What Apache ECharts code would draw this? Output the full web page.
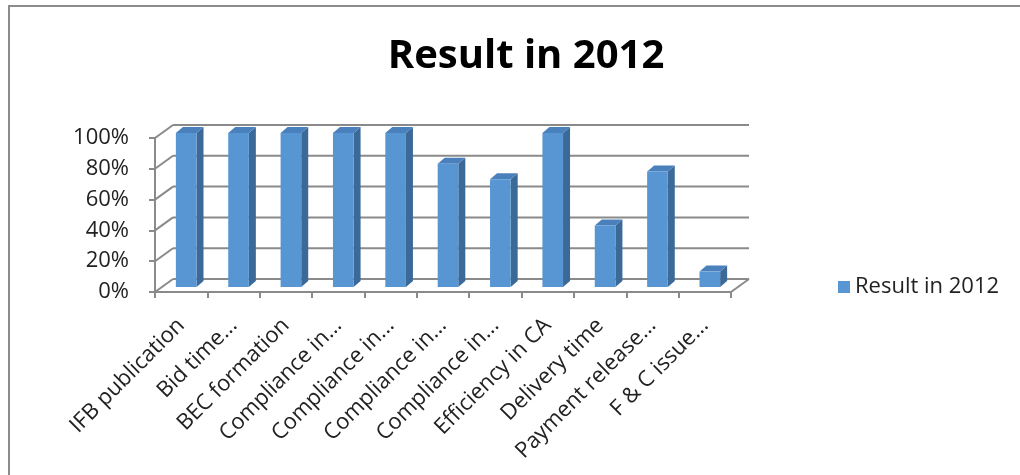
<!DOCTYPE html>
<html>
<head>
<meta charset="utf-8">
<script src="https://cdn.jsdelivr.net/npm/echarts@6/dist/echarts.min.js"></script>
<style>html,body{margin:0;padding:0;background:#fff;}#c{width:1020px;height:475px;}</style>
</head>
<body>
<div id="c"></div>
<script>
const categories = ['IFB publication','Bid time...','BEC formation','Compliance in...','Compliance in...','Compliance in...','Compliance in...','Efficiency in CA','Delivery time','Payment release...','F & C issue...'];
const values = [1.00, 1.00, 1.00, 1.00, 1.00, 0.80, 0.70, 1.00, 0.40, 0.75, 0.10];
const yTicks = [0, 0.2, 0.4, 0.6, 0.8, 1.0];
const seriesName = 'Result in 2012';
const titleText = 'Result in 2012';

const FONT = '"Open Sans", "Noto Sans", sans-serif';
const GRID_COLOR = '#8a8a8a';
const WALL_D = [18, -13];     // depth of floor/back wall
const BAR_FRONT = [5, -5];    // front face offset inside the depth
const BAR_D = [7, -6];        // bar depth
const BAR_HALF = 0.197;       // half width as fraction of band

const chart = echarts.init(document.getElementById('c'), null, {renderer: 'canvas'});

const option = {
  backgroundColor: '#fff',
  animation: false,
  title: {
    text: titleText,
    left: 521, top: 32, textAlign: 'center',
    textStyle: {fontFamily: FONT, fontWeight: 'bold', fontSize: 40, color: '#000'}
  },
  legend: {
    left: 833, top: 271,
    itemWidth: 12, itemHeight: 12, itemGap: 10,
    textStyle: {fontFamily: FONT, fontSize: 22, color: '#222'},
    data: [{name: seriesName, icon: 'rect', itemStyle: {color: '#5796d3'}}]
  },
  grid: {left: 155, right: 289, top: 138, bottom: 183, containLabel: false},
  xAxis: {
    type: 'category',
    data: categories,
    boundaryGap: true,
    axisLine: {show: true, lineStyle: {color: GRID_COLOR, width: 2}},
    axisTick: {show: true, length: 6, lineStyle: {color: GRID_COLOR, width: 2}},
    axisLabel: {rotate: 45, margin: 30, interval: 0, fontFamily: FONT, fontSize: 22, color: '#222'},
    splitLine: {show: false}
  },
  yAxis: {
    type: 'value', min: 0, max: 1, interval: 0.2,
    axisLine: {show: true, lineStyle: {color: GRID_COLOR, width: 2}},
    axisTick: {show: true, length: 6, lineStyle: {color: GRID_COLOR, width: 2}},
    axisLabel: {margin: 26, fontFamily: FONT, fontSize: 22, color: '#222',
      formatter: v => Math.round(v * 100) + '%'},
    splitLine: {show: false}
  },
  graphic: [{
    type: 'rect', z: -10,
    shape: {x: 9, y: 6, width: 1030, height: 490},
    style: {fill: 'none', stroke: '#8c8c8c', lineWidth: 2}
  }],
  series: [
    {
      name: 'walls',
      type: 'custom',
      z: 1,
      clip: false,
      silent: true,
      data: yTicks.map(t => [0, t]),
      encode: {x: 0, y: 1},
      renderItem: function (params, api) {
        const cs = params.coordSys;
        const y = api.coord([0, api.value(1)])[1];
        const x0 = cs.x, x1 = cs.x + cs.width;
        const children = [
          {type: 'line', shape: {x1: x0, y1: y, x2: x0 + WALL_D[0], y2: y + WALL_D[1]},
            style: {stroke: GRID_COLOR, lineWidth: 2}},
          {type: 'line', shape: {x1: x0 + WALL_D[0], y1: y + WALL_D[1], x2: x1 + WALL_D[0], y2: y + WALL_D[1]},
            style: {stroke: GRID_COLOR, lineWidth: 2}}
        ];
        if (api.value(1) === 0) {
          children.push({type: 'line', shape: {x1: x1, y1: y, x2: x1 + WALL_D[0], y2: y + WALL_D[1]},
            style: {stroke: GRID_COLOR, lineWidth: 2}});
        }
        return {type: 'group', children: children};
      }
    },
    {
      name: seriesName,
      type: 'custom',
      z: 3,
      clip: false,
      data: values.map((v, i) => [i, v]),
      encode: {x: 0, y: 1},
      renderItem: function (params, api) {
        const i = api.value(0), v = api.value(1);
        const p0 = api.coord([i, 0]);
        const p1 = api.coord([i, v]);
        const band = api.size([1, 0])[0];
        const hw = band * BAR_HALF;
        const cx = p0[0] + BAR_FRONT[0];
        const yb = p0[1] + BAR_FRONT[1];
        const yt = p1[1] + BAR_FRONT[1];
        const xl = cx - hw, xr = cx + hw;
        const dx = BAR_D[0], dy = BAR_D[1];
        return {
          type: 'group',
          children: [
            {type: 'polygon', shape: {points: [[xr, yb], [xr, yt], [xr + dx, yt + dy], [xr + dx, yb + dy]]},
              style: {fill: '#3b6a98'}},
            {type: 'polygon', shape: {points: [[xl, yt], [xr, yt], [xr + dx, yt + dy], [xl + dx, yt + dy]]},
              style: {fill: '#4a80bb'}},
            {type: 'rect', shape: {x: xl, y: yt, width: xr - xl, height: yb - yt},
              style: {fill: '#5796d3'}}
          ]
        };
      }
    }
  ]
};
chart.setOption(option);
</script>
</body>
</html>
